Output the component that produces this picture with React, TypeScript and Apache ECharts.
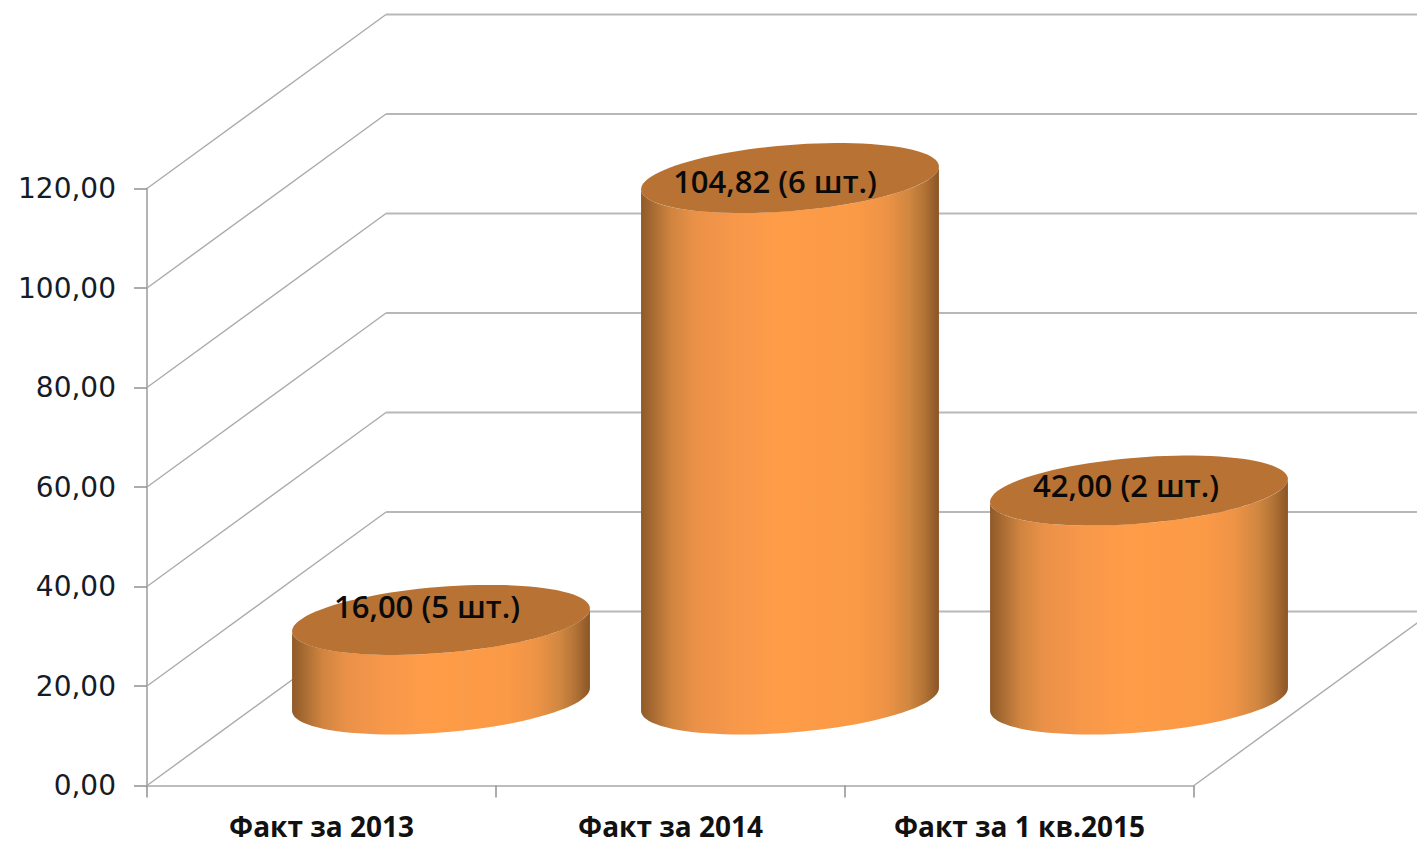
import React, { useEffect, useRef } from "react";
import * as echarts from "echarts";

const categories = ["Факт за 2013", "Факт за 2014", "Факт за 1 кв.2015"];
const values = [16.0, 104.82, 42.0];
const counts = [5, 6, 2];
const ticks = [0, 20, 40, 60, 80, 100, 120];

const DEPTH_X = 239;
const DEPTH_Y = -174;
const FLOOR_DROP = 1;
const A = 149.4;
const B = 33;
const THETA = (-4.6 * Math.PI) / 180;
const labelNudge = [[-14, -14], [-15, 3], [-13, -6]];
const FONT = "'Open Sans', sans-serif";

const fmt = (v: number) => v.toFixed(2).replace(".", ",");

function pt(cx: number, cy: number, t: number): number[] {
  const c = Math.cos(t), s = Math.sin(t);
  return [
    cx + A * c * Math.cos(THETA) - B * s * Math.sin(THETA),
    cy + A * c * Math.sin(THETA) + B * s * Math.cos(THETA),
  ];
}

function ellipse(cx: number, cy: number): number[][] {
  const out: number[][] = [];
  for (let i = 0; i < 96; i++) out.push(pt(cx, cy, (i / 96) * 2 * Math.PI));
  return out;
}

function renderWall(_: any, api: any) {
  const v = api.value(1);
  const band = api.size([1, 0])[0];
  const a = api.coord([0, v]);
  const r = api.coord([2, v]);
  const x0 = a[0] - band / 2;
  const x1 = r[0] + band / 2;
  const y = a[1];
  const children: any[] = [
    {
      type: "line",
      shape: { x1: x0, y1: y, x2: x0 + DEPTH_X, y2: y + DEPTH_Y },
      style: { stroke: "#ababab", lineWidth: 1.4 },
    },
    {
      type: "line",
      shape: { x1: x0 + DEPTH_X, y1: y + DEPTH_Y, x2: x1 + DEPTH_X, y2: y + DEPTH_Y },
      style: { stroke: "#b8b8b8", lineWidth: 2 },
    },
  ];
  if (v === 0) {
    children.push({
      type: "line",
      shape: { x1, y1: y, x2: x1 + DEPTH_X, y2: y + DEPTH_Y },
      style: { stroke: "#ababab", lineWidth: 1.4 },
    });
  }
  return { type: "group", children };
}

function renderCylinder(_: any, api: any) {
  const i = api.value(0);
  const v = api.value(1);
  const top = api.coord([i, v]);
  const base = api.coord([i, 0]);
  const cx = top[0] + DEPTH_X / 2;
  const topY = top[1] + DEPTH_Y / 2 + FLOOR_DROP;
  const baseY = base[1] + DEPTH_Y / 2 + FLOOR_DROP;
  const t0 = Math.atan((-B / A) * Math.tan(THETA));
  const points: number[][] = [];
  for (let k = 0; k <= 48; k++) points.push(pt(cx, baseY, t0 + (k / 48) * Math.PI));
  for (let k = 48; k >= 0; k--) points.push(pt(cx, topY, t0 + (k / 48) * Math.PI));
  const nudge = labelNudge[i];
  return {
    type: "group",
    children: [
      {
        type: "polygon",
        shape: { points },
        style: {
          fill: new echarts.graphic.LinearGradient(0, 0, 1, 0, [
            { offset: 0, color: "#8f5a28" },
            { offset: 0.05, color: "#ae6f35" },
            { offset: 0.1, color: "#cf843f" },
            { offset: 0.18, color: "#ea9148" },
            { offset: 0.3, color: "#f6974a" },
            { offset: 0.45, color: "#fe9c48" },
            { offset: 0.72, color: "#fb9a46" },
            { offset: 0.82, color: "#ee9346" },
            { offset: 0.9, color: "#d08740" },
            { offset: 0.95, color: "#b37336" },
            { offset: 1, color: "#8a5526" },
          ]),
        },
      },
      { type: "polygon", shape: { points: ellipse(cx, topY) }, style: { fill: "#b87233" } },
      {
        type: "text",
        style: {
          text: `${fmt(v)} (${counts[i]} шт.)`,
          x: cx + nudge[0],
          y: topY + nudge[1],
          align: "center",
          verticalAlign: "middle",
          fill: "#0a0a0a",
          fontFamily: FONT,
          fontSize: 31,
          fontWeight: 600,
        },
      },
    ],
  };
}

export default function App() {
  const ref = useRef<HTMLDivElement>(null);
  useEffect(() => {
    const chart = echarts.init(ref.current!, undefined, { renderer: "svg" });
    chart.setOption({
      animation: false,
      backgroundColor: "#ffffff",
      grid: { left: 147, right: 223, top: 188.5, bottom: 57.5 },
      xAxis: {
        type: "category",
        data: categories,
        axisLine: { lineStyle: { color: "#bdbdbd", width: 2 } },
        axisTick: { show: true, alignWithLabel: false, length: 12, lineStyle: { color: "#909090", width: 1.5 } },
        axisLabel: {
          interval: 0,
          margin: 26,
          hideOverlap: false,
          color: "#111111",
          fontFamily: FONT,
          fontSize: 28,
          lineHeight: 28,
          fontWeight: 700,
          width: 340,
          overflow: "none",
        },
      },
      yAxis: {
        type: "value",
        min: 0,
        max: 120,
        interval: 20,
        splitLine: { show: false },
        axisLine: { show: true, lineStyle: { color: "#b4b4b4", width: 2 } },
        axisTick: { show: true, length: 13, lineStyle: { color: "#909090", width: 1.5 } },
        axisLabel: {
          margin: 31,
          formatter: (v: number) => fmt(v),
          color: "#141c28",
          fontFamily: "'DejaVu Sans', sans-serif",
          fontSize: 28,
        },
      },
      series: [
        {
          type: "custom",
          z: 1,
          renderItem: renderWall,
          encode: { x: 0, y: 1 },
          data: ticks.map((t) => [0, t]),
        },
        {
          type: "custom",
          z: 2,
          renderItem: renderCylinder,
          encode: { x: 0, y: 1 },
          data: values.map((v, i) => [i, v]),
        },
      ],
    });
    return () => chart.dispose();
  }, []);
  return <div ref={ref} style={{ position: "fixed", left: 0, top: 0, width: 1417, height: 843 }} />;
}
